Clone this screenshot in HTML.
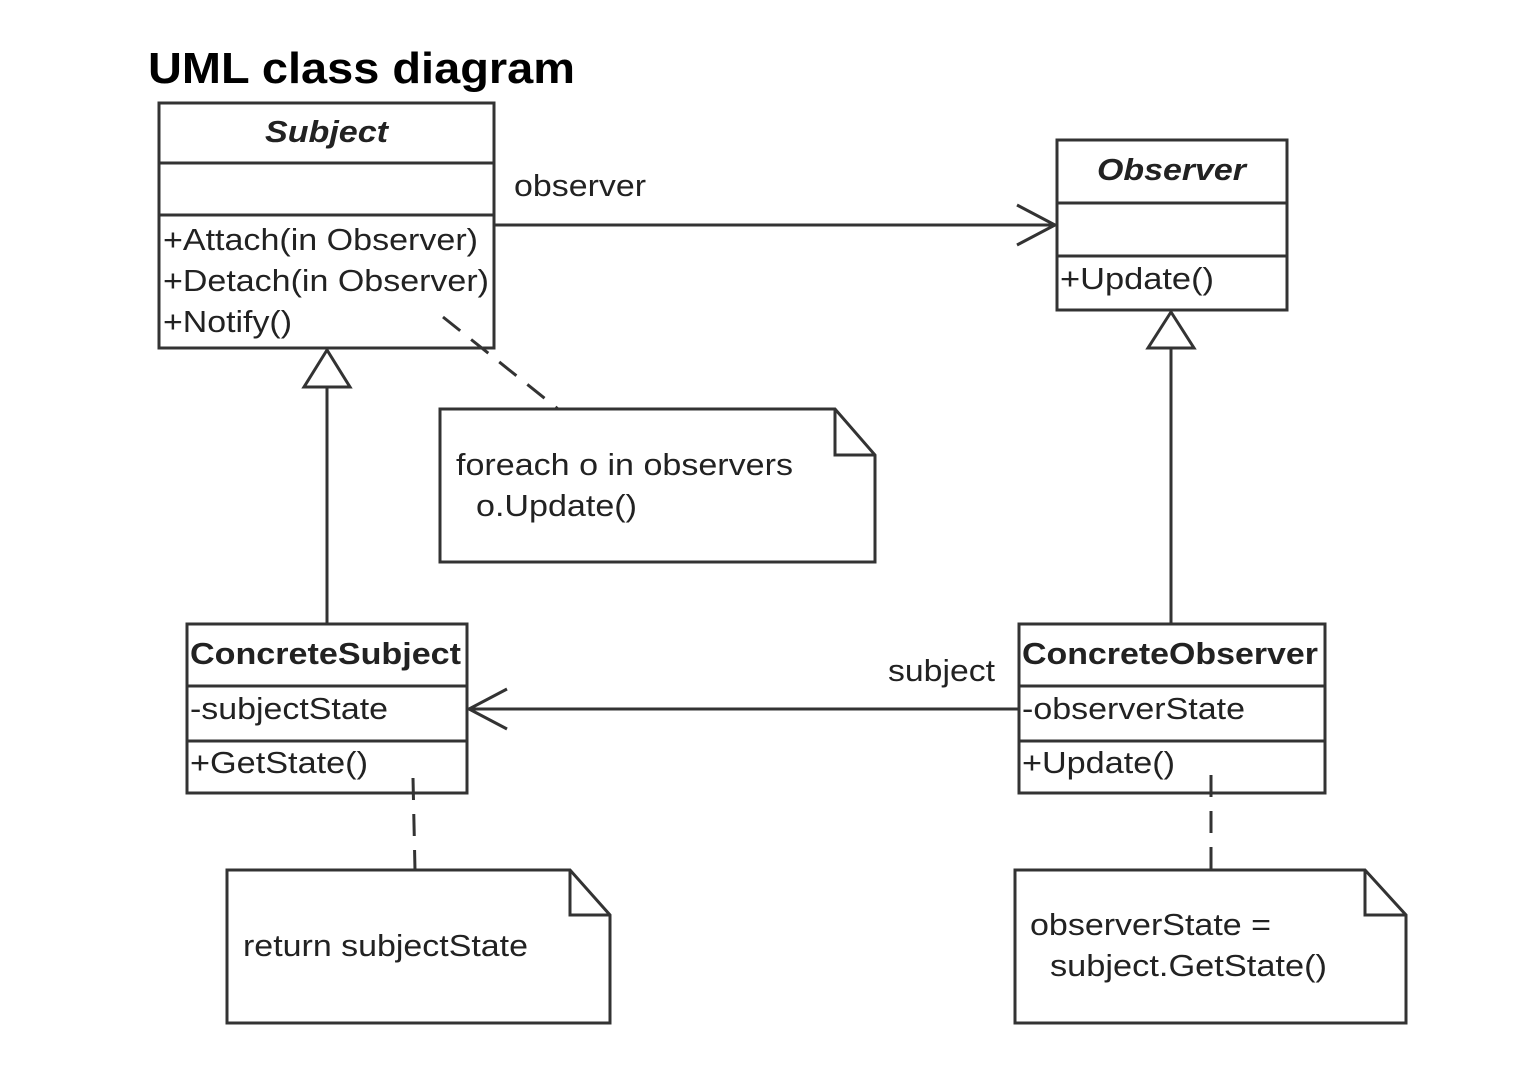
<!DOCTYPE html>
<html><head><meta charset="utf-8"><style>
html,body{margin:0;padding:0;background:#fff;}
svg{display:block;}
text{font-family:"Liberation Sans",sans-serif;fill:#222;}
</style></head><body>
<svg width="1526" height="1090" viewBox="0 0 1526 1090" xmlns="http://www.w3.org/2000/svg">
<rect width="1526" height="1090" fill="#fff"/>
<text x="148" y="83" font-size="44" font-weight="bold" style="fill:#000" textLength="427" lengthAdjust="spacingAndGlyphs">UML class diagram</text>
<g stroke="#333" stroke-width="3" fill="none">
<rect x="159" y="103" width="335" height="245"/>
<line x1="159" y1="163" x2="494" y2="163"/>
<line x1="159" y1="215" x2="494" y2="215"/>
<rect x="1057" y="140" width="230" height="170"/>
<line x1="1057" y1="203" x2="1287" y2="203"/>
<line x1="1057" y1="256" x2="1287" y2="256"/>
<rect x="187" y="624" width="280" height="169"/>
<line x1="187" y1="686" x2="467" y2="686"/>
<line x1="187" y1="741" x2="467" y2="741"/>
<rect x="1019" y="624" width="306" height="169"/>
<line x1="1019" y1="686" x2="1325" y2="686"/>
<line x1="1019" y1="741" x2="1325" y2="741"/>
<line x1="494" y1="225" x2="1055" y2="225"/>
<polyline points="1017,205 1055,225 1017,245"/>
<line x1="1019" y1="709" x2="469" y2="709"/>
<polyline points="507,689 469,709 507,729"/>
<line x1="327" y1="387" x2="327" y2="624"/>
<polygon points="327,350 304,387 350,387"/>
<line x1="1171" y1="348" x2="1171" y2="624"/>
<polygon points="1171,312 1148,348 1194,348"/>
<path d="M440,409 H835 L875,455 V562 H440 Z"/>
<path d="M835,409 V455 H875"/>
<path d="M227,870 H570 L610,915 V1023 H227 Z"/>
<path d="M570,870 V915 H610"/>
<path d="M1015,870 H1365 L1406,915 V1023 H1015 Z"/>
<path d="M1365,870 V915 H1406"/>
<g stroke-dasharray="22,14">
<line x1="443" y1="317" x2="558" y2="409"/>
<line x1="413" y1="778" x2="415" y2="870"/>
<line x1="1211" y1="775" x2="1211" y2="870"/>
</g>
</g>
<g font-size="31" lengthAdjust="spacingAndGlyphs">
<text x="265" y="142" font-weight="bold" font-style="italic" textLength="123" lengthAdjust="spacingAndGlyphs">Subject</text>
<text x="163" y="250" textLength="315" lengthAdjust="spacingAndGlyphs">+Attach(in Observer)</text>
<text x="163" y="291" textLength="326" lengthAdjust="spacingAndGlyphs">+Detach(in Observer)</text>
<text x="163" y="332" textLength="129" lengthAdjust="spacingAndGlyphs">+Notify()</text>
<text x="1097" y="180" font-weight="bold" font-style="italic" textLength="149" lengthAdjust="spacingAndGlyphs">Observer</text>
<text x="1060" y="289" textLength="154" lengthAdjust="spacingAndGlyphs">+Update()</text>
<text x="514" y="196" textLength="132" lengthAdjust="spacingAndGlyphs">observer</text>
<text x="888" y="681" textLength="107" lengthAdjust="spacingAndGlyphs">subject</text>
<text x="190" y="664" font-weight="bold" textLength="271" lengthAdjust="spacingAndGlyphs">ConcreteSubject</text>
<text x="190" y="719" textLength="198" lengthAdjust="spacingAndGlyphs">-subjectState</text>
<text x="190" y="773" textLength="178" lengthAdjust="spacingAndGlyphs">+GetState()</text>
<text x="1022" y="664" font-weight="bold" textLength="296" lengthAdjust="spacingAndGlyphs">ConcreteObserver</text>
<text x="1022" y="719" textLength="223" lengthAdjust="spacingAndGlyphs">-observerState</text>
<text x="1022" y="773" textLength="153" lengthAdjust="spacingAndGlyphs">+Update()</text>
<text x="456" y="475" textLength="337" lengthAdjust="spacingAndGlyphs">foreach o in observers</text>
<text x="476" y="516" textLength="161" lengthAdjust="spacingAndGlyphs">o.Update()</text>
<text x="243" y="956" textLength="285" lengthAdjust="spacingAndGlyphs">return subjectState</text>
<text x="1030" y="935" textLength="241" lengthAdjust="spacingAndGlyphs">observerState =</text>
<text x="1050" y="976" textLength="277" lengthAdjust="spacingAndGlyphs">subject.GetState()</text>
</g>
</svg>
</body></html>
